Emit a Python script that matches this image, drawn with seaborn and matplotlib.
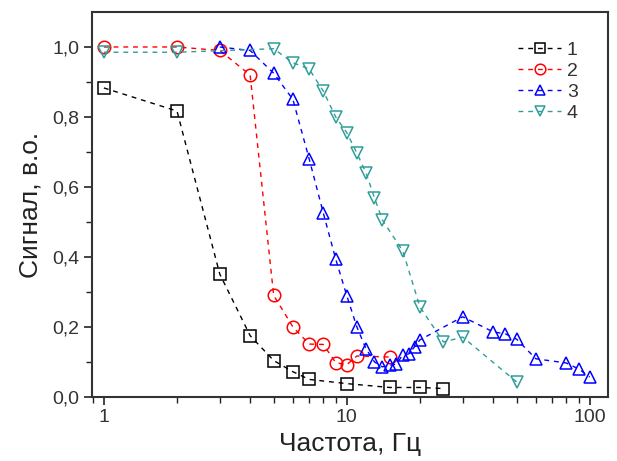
import numpy as np
import pandas as pd
import matplotlib
matplotlib.use("Agg")
import matplotlib.pyplot as plt
import seaborn as sns
from matplotlib.ticker import FixedLocator, NullFormatter, LogLocator

sns.set_theme(style="white")
plt.rcParams['font.family'] = ['Liberation Sans', 'DejaVu Sans']

# ---- data ----
x1 = [1, 2, 3, 4, 5, 6, 7, 10, 15, 20, 25]
y1 = [0.883, 0.817, 0.351, 0.175, 0.104, 0.072, 0.050, 0.038, 0.027, 0.027, 0.024]

x2 = [1, 2, 3, 4, 5, 6, 7, 8, 9, 10, 11, 15]
y2 = [1.0, 1.0, 0.99, 0.92, 0.29, 0.20, 0.151, 0.150, 0.098, 0.092, 0.117, 0.114]

x3 = [3, 4, 5, 6, 7, 8, 9, 10, 11, 12, 13, 14, 15, 16, 17, 18, 19, 20,
      30, 40, 45, 50, 60, 80, 90, 100]
y3 = [1.0, 0.99, 0.925, 0.85, 0.68, 0.526, 0.394, 0.289, 0.20, 0.137, 0.10,
      0.086, 0.09, 0.094, 0.12, 0.123, 0.143, 0.163,
      0.229, 0.186, 0.18, 0.165, 0.109, 0.097, 0.08, 0.057]

x4 = [1, 2, 5, 6, 7, 8, 9, 10, 11, 12, 13, 14, 17, 20, 25, 30, 50]
y4 = [0.985, 0.985, 0.995, 0.955, 0.937, 0.874, 0.80, 0.755, 0.697, 0.64,
      0.569, 0.506, 0.417, 0.257, 0.157, 0.171, 0.043]

labels = ['1', '2', '3', '4']
xlabel = 'Частота, Гц'
ylabel = 'Сигнал, в.о.'
xtick_vals = [1, 10, 100]
xtick_labels = ['1', '10', '100']
ytick_vals = [0.0, 0.2, 0.4, 0.6, 0.8, 1.0]
ytick_labels = ['0,0', '0,2', '0,4', '0,6', '0,8', '1,0']

series = [(x1, y1), (x2, y2), (x3, y3), (x4, y4)]
colors = ['#000000', '#FF0000', '#0000FF', '#2E9E9A']
markers = ['s', 'o', '^', 'v']

fig = plt.figure(figsize=(6.17, 4.61), dpi=100)
ax = fig.add_axes([0.149, 0.139, 0.836, 0.835])

for (xs, ys), lab, c, m in zip(series, labels, colors, markers):
    df = pd.DataFrame({'x': xs, 'y': ys})
    sns.lineplot(data=df, x='x', y='y', ax=ax, color=c, marker=m,
                 markersize=9, markerfacecolor='none', markeredgecolor=c,
                 markeredgewidth=1.1, linewidth=1.0, linestyle=(0, (3.5, 3.5)),
                 label=lab, errorbar=None, sort=False)

ax.set_xscale('log')
ax.set_xlim(0.893, 118.6)
ax.set_ylim(0.0, 1.1)

ax.xaxis.set_major_locator(FixedLocator(xtick_vals))
ax.set_xticklabels(xtick_labels)
ax.xaxis.set_minor_locator(LogLocator(base=10, subs=np.arange(2, 10)))
ax.xaxis.set_minor_formatter(NullFormatter())
ax.yaxis.set_major_locator(FixedLocator(ytick_vals))
ax.set_yticklabels(ytick_labels)
ax.yaxis.set_minor_locator(FixedLocator([0.1, 0.3, 0.5, 0.7, 0.9]))

ax.tick_params(axis='both', which='major', direction='out', length=6, width=1.2,
               labelsize=14, colors='#222222', labelcolor='#333333', pad=3,
               bottom=True, left=True, top=False, right=False)
ax.tick_params(axis='both', which='minor', direction='out', length=4, width=1.0,
               colors='#222222', bottom=True, left=True, top=False, right=False)

for s in ax.spines.values():
    s.set_visible(True)
    s.set_color('#333333')
    s.set_linewidth(1.5)

ax.set_xlabel(xlabel, fontsize=19, color='#222222', labelpad=4)
ax.set_ylabel(ylabel, fontsize=19, color='#222222', labelpad=7)

leg = ax.legend(loc='upper right', bbox_to_anchor=(0.957, 0.945), frameon=False,
                fontsize=14, handlelength=2.2, handletextpad=0.3,
                labelspacing=0.18, borderaxespad=0, markerscale=0.85)
for t in leg.get_texts():
    t.set_color('#333333')

fig.savefig('out.png', dpi=100)
